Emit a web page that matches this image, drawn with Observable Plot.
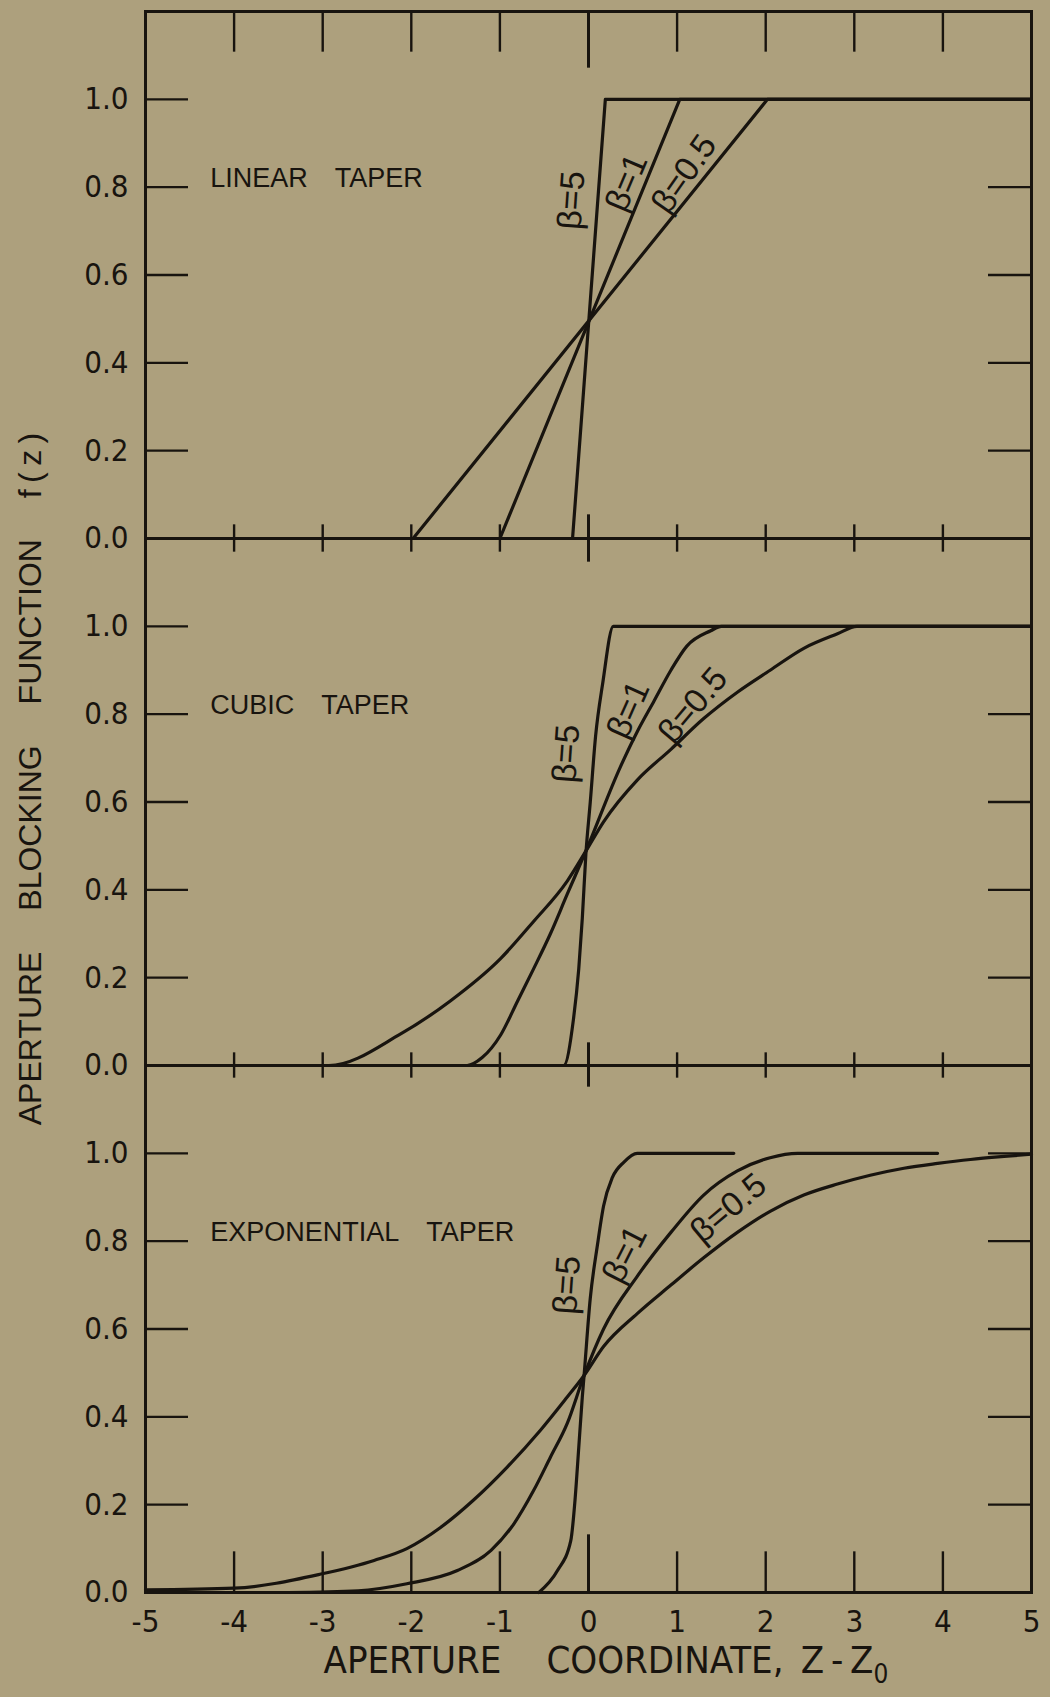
<!DOCTYPE html>
<html>
<head>
<meta charset="utf-8">
<script src="https://cdn.jsdelivr.net/npm/d3@7"></script>
<script src="https://cdn.jsdelivr.net/npm/@observablehq/plot@0.6"></script>
<style>
  html, body { margin: 0; padding: 0; background: #ada07d; }
  #chart { width: 1050px; height: 1697px; }
</style>
</head>
<body>
<div id="chart"></div>
<script>
// ---------- data ----------
const tapers = ["LINEAR", "CUBIC", "EXPONENTIAL"];
const panelTitles = ["LINEAR\u2003TAPER", "CUBIC\u2003TAPER", "EXPONENTIAL\u2003TAPER"];
const betas = ["5", "1", "0.5"];
const xTickValues = [-5, -4, -3, -2, -1, 0, 1, 2, 3, 4, 5];
const yTickValues = [0, 0.2, 0.4, 0.6, 0.8, 1.0];

// [z - z0, f(z)]
const linearBeta5   = [[-0.68, 0], [-0.18, 0], [0.19, 1], [5, 1]];
const linearBeta1   = [[-1.56, 0], [-1.0, 0], [1.03, 1], [5, 1]];
const linearBeta05  = [[-2.7, 0], [-1.98, 0], [2.02, 1], [5, 1]];

const cubicBeta5  = [[-0.9, 0], [-0.28, 0], [-0.17, 0.105], [-0.11, 0.22], [-0.07, 0.335], [-0.03, 0.48],
                     [0.02, 0.60], [0.08, 0.75], [0.16, 0.87], [0.28, 1.0], [5, 1.0]];
const cubicBeta1  = [[-2.2, 0], [-1.37, 0], [-1.2, 0.018], [-0.99, 0.07], [-0.80, 0.147], [-0.62, 0.22],
                     [-0.43, 0.30], [-0.24, 0.39], [-0.03, 0.488], [0.36, 0.68], [0.55, 0.76], [0.74, 0.83],
                     [0.93, 0.90], [1.11, 0.955], [1.38, 0.99], [1.5, 1.0], [5, 1.0]];
const cubicBeta05 = [[-5, 0], [-2.93, 0], [-2.12, 0.072], [-1.56, 0.147], [-0.99, 0.244], [-0.62, 0.328],
                     [-0.24, 0.42], [-0.03, 0.488], [0.17, 0.555], [0.55, 0.65], [0.93, 0.72], [1.30, 0.79],
                     [1.68, 0.85], [2.05, 0.90], [2.43, 0.95], [2.81, 0.983], [3.03, 1.0], [5, 1.0]];

const expBeta5  = [[-0.56, 0], [-0.35, 0.05], [-0.20, 0.118], [-0.15, 0.216], [-0.11, 0.33], [-0.07, 0.445],
                   [-0.05, 0.494], [0.02, 0.67], [0.10, 0.79], [0.17, 0.88], [0.27, 0.945], [0.40, 0.98],
                   [0.55, 1.0], [1.64, 1.0]];
const expBeta1  = [[-3.4, 0], [-2.6, 0.004], [-2.05, 0.02], [-1.48, 0.05], [-1.10, 0.096], [-0.84, 0.157],
                   [-0.62, 0.232], [-0.43, 0.308], [-0.24, 0.385], [-0.05, 0.494], [0.17, 0.60], [0.55, 0.72],
                   [0.93, 0.82], [1.30, 0.905], [1.68, 0.96], [2.05, 0.99], [2.36, 1.0], [3.94, 1.0]];
const expBeta05 = [[-5, 0.006], [-4, 0.01], [-3.02, 0.042], [-2.42, 0.073], [-2.05, 0.10], [-1.67, 0.148],
                   [-1.30, 0.21], [-0.92, 0.285], [-0.54, 0.37], [-0.24, 0.445], [-0.05, 0.494], [0.17, 0.56],
                   [0.55, 0.635], [0.93, 0.70], [1.30, 0.762], [1.68, 0.82], [2.05, 0.868], [2.43, 0.905],
                   [2.81, 0.93], [3.18, 0.95], [3.56, 0.966], [3.94, 0.977], [4.31, 0.986], [4.69, 0.993], [5, 0.998]];

// curve-label anchors (annotation positions in data units) and their slant
const betaLabelSpots = [
  {taper: "LINEAR", beta: "5",   z: -0.19, f: 0.77, angle: -86},
  {taper: "LINEAR", beta: "1",   z: 0.43,  f: 0.81, angle: -67},
  {taper: "LINEAR", beta: "0.5", z: 1.08,  f: 0.83, angle: -55},
  {taper: "CUBIC", beta: "5",    z: -0.25, f: 0.71, angle: -86},
  {taper: "CUBIC", beta: "1",    z: 0.45,  f: 0.81, angle: -66},
  {taper: "CUBIC", beta: "0.5",  z: 1.18,  f: 0.82, angle: -50},
  {taper: "EXPONENTIAL", beta: "5",   z: -0.24, f: 0.70, angle: -86},
  {taper: "EXPONENTIAL", beta: "1",   z: 0.41,  f: 0.77, angle: -63},
  {taper: "EXPONENTIAL", beta: "0.5", z: 1.58,  f: 0.875, angle: -40}
];

const X_TITLE = "APERTURE\u2003 COORDINATE,\u2002Z\u2009-\u2009Z";
const X_SUB = "0";
const Y_TITLE = "APERTURE\u2003 BLOCKING\u2003 FUNCTION\u2003 f\u2009(\u2009z\u2009)";

// ---------- build table ----------
const seriesList = [
  {taper: "LINEAR", beta: "5", pts: linearBeta5},
  {taper: "LINEAR", beta: "1", pts: linearBeta1},
  {taper: "LINEAR", beta: "0.5", pts: linearBeta05},
  {taper: "CUBIC", beta: "5", pts: cubicBeta5},
  {taper: "CUBIC", beta: "1", pts: cubicBeta1},
  {taper: "CUBIC", beta: "0.5", pts: cubicBeta05},
  {taper: "EXPONENTIAL", beta: "5", pts: expBeta5},
  {taper: "EXPONENTIAL", beta: "1", pts: expBeta1},
  {taper: "EXPONENTIAL", beta: "0.5", pts: expBeta05}
];
const rows = seriesList.flatMap(s => s.pts.map(([z, f]) => ({taper: s.taper, beta: s.beta, z, f})));
const panelRows = tapers.map((t, i) => ({taper: t, label: panelTitles[i]}));

// ---------- layout / style ----------
const W = 1050, HT = 1697, ML = 145, MR = 19, MT = 10, MB = 105;
const PW = W - ML - MR;
const FH = (HT - MT - MB) / 3;
const INK = "#18140f", BG = "#ada07d";
const NARROW = "'Liberation Sans Narrow', 'DejaVu Sans Condensed', sans-serif";
const SANS = "'Liberation Sans', Arial, sans-serif";

const innerX = xTickValues.filter(v => v !== xTickValues[0] && v !== xTickValues[xTickValues.length - 1] && v !== 0);
const zeroX = xTickValues.filter(v => v === 0);
const innerY = yTickValues.filter(v => v > 0);

// [panel, edge, tick length, zero-tick length]
const edgeTickSpecs = [
  ["LINEAR", "top", 41, 57], ["LINEAR", "bottom", 14, 24],
  ["CUBIC", "top", 14, 24], ["CUBIC", "bottom", 13, 23],
  ["EXPONENTIAL", "top", 13, 22], ["EXPONENTIAL", "bottom", 41, 58]
];
function edgeTicks(values, taper, edge, len, sw) {
  const inset = edge === "top" ? {insetBottom: FH - len} : {insetTop: FH - len};
  return Plot.tickX(values, {x: d => d, fy: () => taper, stroke: INK, strokeWidth: sw, ...inset});
}
const tickMarks = edgeTickSpecs.flatMap(([t, e, len, zlen]) => [
  edgeTicks(innerX, t, e, len, 2.4),
  edgeTicks(zeroX, t, e, zlen, 3)
]);

const chart = Plot.plot({
  width: W, height: HT,
  marginLeft: ML, marginRight: MR, marginTop: MT, marginBottom: MB,
  x: {domain: [-5, 5], label: null},
  y: {domain: [0, 1.2], label: null},
  fy: {domain: tapers, padding: 0, axis: null, label: null},
  style: {background: BG, color: INK, fontFamily: NARROW, fontSize: "31px", overflow: "visible"},
  marks: [
    // inward y ticks, left and right
    Plot.tickY(innerY, {y: d => d, stroke: INK, strokeWidth: 2.4, insetRight: PW - 43}),
    Plot.tickY(innerY, {y: d => d, stroke: INK, strokeWidth: 2.4, insetLeft: PW - 43}),
    ...tickMarks,
    // curves
    Plot.line(rows.filter(d => d.taper === "LINEAR"),
      {x: "z", y: "f", z: "beta", fy: "taper", stroke: INK, strokeWidth: 3.2, curve: "linear"}),
    Plot.line(rows.filter(d => d.taper !== "LINEAR"),
      {x: "z", y: "f", z: "beta", fy: "taper", stroke: INK, strokeWidth: 3.2, curve: "monotone-x"}),
    Plot.frame({stroke: INK, strokeWidth: 3}),
    // axes
    Plot.axisY({ticks: yTickValues, tickSize: 0, tickPadding: 17, tickFormat: d => d.toFixed(1),
      fontSize: 31, fontFamily: NARROW, label: null}),
    Plot.axisX({ticks: xTickValues, anchor: "bottom", tickSize: 0, tickPadding: 17, tickFormat: d => String(d),
      fontSize: 31, fontFamily: NARROW, label: null}),
    // panel titles
    Plot.text(panelRows, {fy: "taper", text: "label", x: -4.27, y: 0.82, textAnchor: "start",
      fontSize: 27, fontFamily: SANS, fill: INK}),
    // beta labels
    Plot.text(betaLabelSpots, {fy: "taper", x: "z", y: "f", rotate: "angle",
      text: d => `\u03b2=${d.beta}`, fontSize: 34, fontFamily: SANS, fill: INK, ariaLabel: "beta-label"}),
    // axis titles
    Plot.text([Y_TITLE], {fy: () => "CUBIC", text: d => d, frameAnchor: "left", textAnchor: "middle",
      dx: -115, dy: -23, rotate: -90, fontSize: 32, fontFamily: SANS, fill: INK}),
    Plot.text([X_TITLE], {fy: () => "EXPONENTIAL", text: d => d, frameAnchor: "bottom-left", dx: 178, dy: 80,
      textAnchor: "start", fontSize: 38, fontFamily: NARROW, fill: INK})
  ]
});

document.getElementById("chart").appendChild(chart);

// subscript on the x title, letter spacing on curve labels
d3.select(chart).selectAll("text")
  .filter(function () { return this.textContent === X_TITLE; })
  .each(function () {
    d3.select(this).append("tspan").attr("dy", 10).attr("font-size", 26).text(X_SUB);
  });
d3.select(chart).selectAll('g[aria-label="beta-label"] text').style("letter-spacing", "3px");
</script>
</body>
</html>
